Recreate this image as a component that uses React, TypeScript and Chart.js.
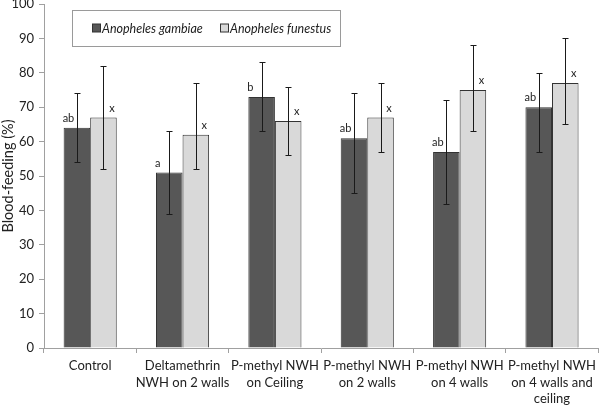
import React, { useEffect, useRef } from "react";
import { Chart, registerables } from "chart.js";

Chart.register(...registerables);

const categories: string[][] = [
  ["Control"],
  ["Deltamethrin", "NWH on 2 walls"],
  ["P-methyl NWH", "on Ceiling"],
  ["P-methyl NWH", "on 2 walls"],
  ["P-methyl NWH", "on 4 walls"],
  ["P-methyl NWH", "on 4 walls and", "ceiling"],
];
const gambiae = [64, 51, 73, 61, 57, 70];
const gambiaeLow = [54, 39, 63, 45, 42, 57];
const gambiaeHigh = [74, 63, 83, 74, 72, 80];
const gambiaeLetters = ["ab", "a", "b", "ab", "ab", "ab"];
const funestus = [67, 62, 66, 67, 75, 77];
const funestusLow = [52, 52, 56, 57, 63, 65];
const funestusHigh = [82, 77, 76, 77, 88, 90];
const funestusLetters = ["x", "x", "x", "x", "x", "x"];
const seriesNames = ["Anopheles gambiae", "Anopheles funestus"];
const yMin = 0;
const yMax = 100;
const yStep = 10;

const FONT = "Lato, 'Open Sans', sans-serif";
const DARK = "#575757";
const LIGHT = "#d9d9d9";

const errorBars = {
  id: "errorBars",
  afterDatasetsDraw(chart: any) {
    const ctx = chart.ctx;
    const y = chart.scales.y;
    const lows = [gambiaeLow, funestusLow];
    const highs = [gambiaeHigh, funestusHigh];
    const letters = [gambiaeLetters, funestusLetters];
    ctx.save();
    chart.data.datasets.forEach((_ds: any, di: number) => {
      const meta = chart.getDatasetMeta(di);
      meta.data.forEach((bar: any, i: number) => {
        const x = Math.round(bar.x) + 0.5;
        const yl = Math.round(y.getPixelForValue(lows[di][i])) + 0.5;
        const yh = Math.round(y.getPixelForValue(highs[di][i])) + 0.5;
        ctx.strokeStyle = "#1a1a1a";
        ctx.lineWidth = 1;
        ctx.beginPath();
        ctx.moveTo(x, yl);
        ctx.lineTo(x, yh);
        ctx.moveTo(x - 3, yl);
        ctx.lineTo(x + 3, yl);
        ctx.moveTo(x - 3, yh);
        ctx.lineTo(x + 3, yh);
        ctx.stroke();
        const half = bar.width / 2;
        ctx.fillStyle = "#222";
        ctx.font = `11px ${FONT}`;
        ctx.textBaseline = "bottom";
        if (di === 0) {
          ctx.textAlign = "left";
          ctx.fillText(letters[di][i], bar.x - half - 1, bar.y - 4);
        } else {
          ctx.textAlign = "right";
          ctx.fillText(letters[di][i], bar.x + half - 2, bar.y - 4);
        }
      });
    });
    ctx.restore();
  },
};

const boxLegend = {
  id: "boxLegend",
  afterDraw(chart: any) {
    const ctx = chart.ctx;
    ctx.save();
    const bx = 72.5, by = 10.5, bw = 268, bh = 36;
    ctx.fillStyle = "#ffffff";
    ctx.fillRect(bx, by, bw, bh);
    ctx.strokeStyle = "#9a9a9a";
    ctx.lineWidth = 1;
    ctx.strokeRect(bx, by, bw, bh);
    const cy = by + bh / 2;
    const items = [
      { x: 92, color: DARK, label: seriesNames[0] },
      { x: 220, color: LIGHT, label: seriesNames[1] },
    ];
    ctx.font = `italic 12.5px ${FONT}`;
    ctx.textBaseline = "middle";
    ctx.textAlign = "left";
    items.forEach((it) => {
      ctx.fillStyle = it.color;
      ctx.fillRect(it.x + 0.5, cy - 4.5, 8, 8);
      ctx.strokeStyle = "#333";
      ctx.strokeRect(it.x + 0.5, cy - 4.5, 8, 8);
      ctx.fillStyle = "#222";
      ctx.fillText(it.label, it.x + 10, cy);
    });
    ctx.restore();
  },
};

export default function App() {
  const ref = useRef<HTMLCanvasElement | null>(null);
  useEffect(() => {
    if (!ref.current) return;
    const chart = new Chart(ref.current, {
      type: "bar",
      data: {
        labels: categories,
        datasets: [
          {
            label: seriesNames[0],
            data: gambiae,
            backgroundColor: DARK,
            borderColor: "#333333",
            borderWidth: 1,
            categoryPercentage: 0.575,
            barPercentage: 1,
          },
          {
            label: seriesNames[1],
            data: funestus,
            backgroundColor: LIGHT,
            borderColor: "#333333",
            borderWidth: 1,
            categoryPercentage: 0.575,
            barPercentage: 1,
          },
        ],
      },
      options: {
        animation: false,
        responsive: false,
        maintainAspectRatio: false,
        layout: { padding: { left: 0, right: 0, top: 0, bottom: 0 } },
        plugins: {
          legend: { display: false },
          tooltip: { enabled: false },
        },
        scales: {
          x: {
            grid: {
              offset: true,
              drawOnChartArea: false,
              drawTicks: true,
              tickLength: 5,
              color: "#a0a0a0",
            },
            border: { color: "#a0a0a0" },
            ticks: {
              color: "#222",
              font: { family: FONT, size: 13, lineHeight: 1.3 },
              padding: 4,
              maxRotation: 0,
              autoSkip: false,
            },
            afterFit(scale: any) {
              scale.height = 60;
            },
          },
          y: {
            min: yMin,
            max: yMax,
            grid: {
              drawOnChartArea: false,
              drawTicks: true,
              tickLength: 5,
              color: "#a0a0a0",
            },
            border: { color: "#a0a0a0" },
            ticks: {
              stepSize: yStep,
              color: "#222",
              font: { family: FONT, size: 13 },
              padding: 5,
            },
            title: {
              display: true,
              text: "Blood-feeding (%)",
              color: "#222",
              font: { family: FONT, size: 14.5 },
              padding: 0,
            },
            afterFit(scale: any) {
              scale.width = 44;
              scale.paddingTop = 4;
            },
          },
        },
      },
      plugins: [errorBars, boxLegend],
    });
    return () => chart.destroy();
  }, []);
  return (
    <div style={{ position: "fixed", left: 0, top: 0, width: 600, height: 408, background: "#fff" }}>
      <canvas ref={ref} width={600} height={408} style={{ width: 600, height: 408 }} />
    </div>
  );
}
